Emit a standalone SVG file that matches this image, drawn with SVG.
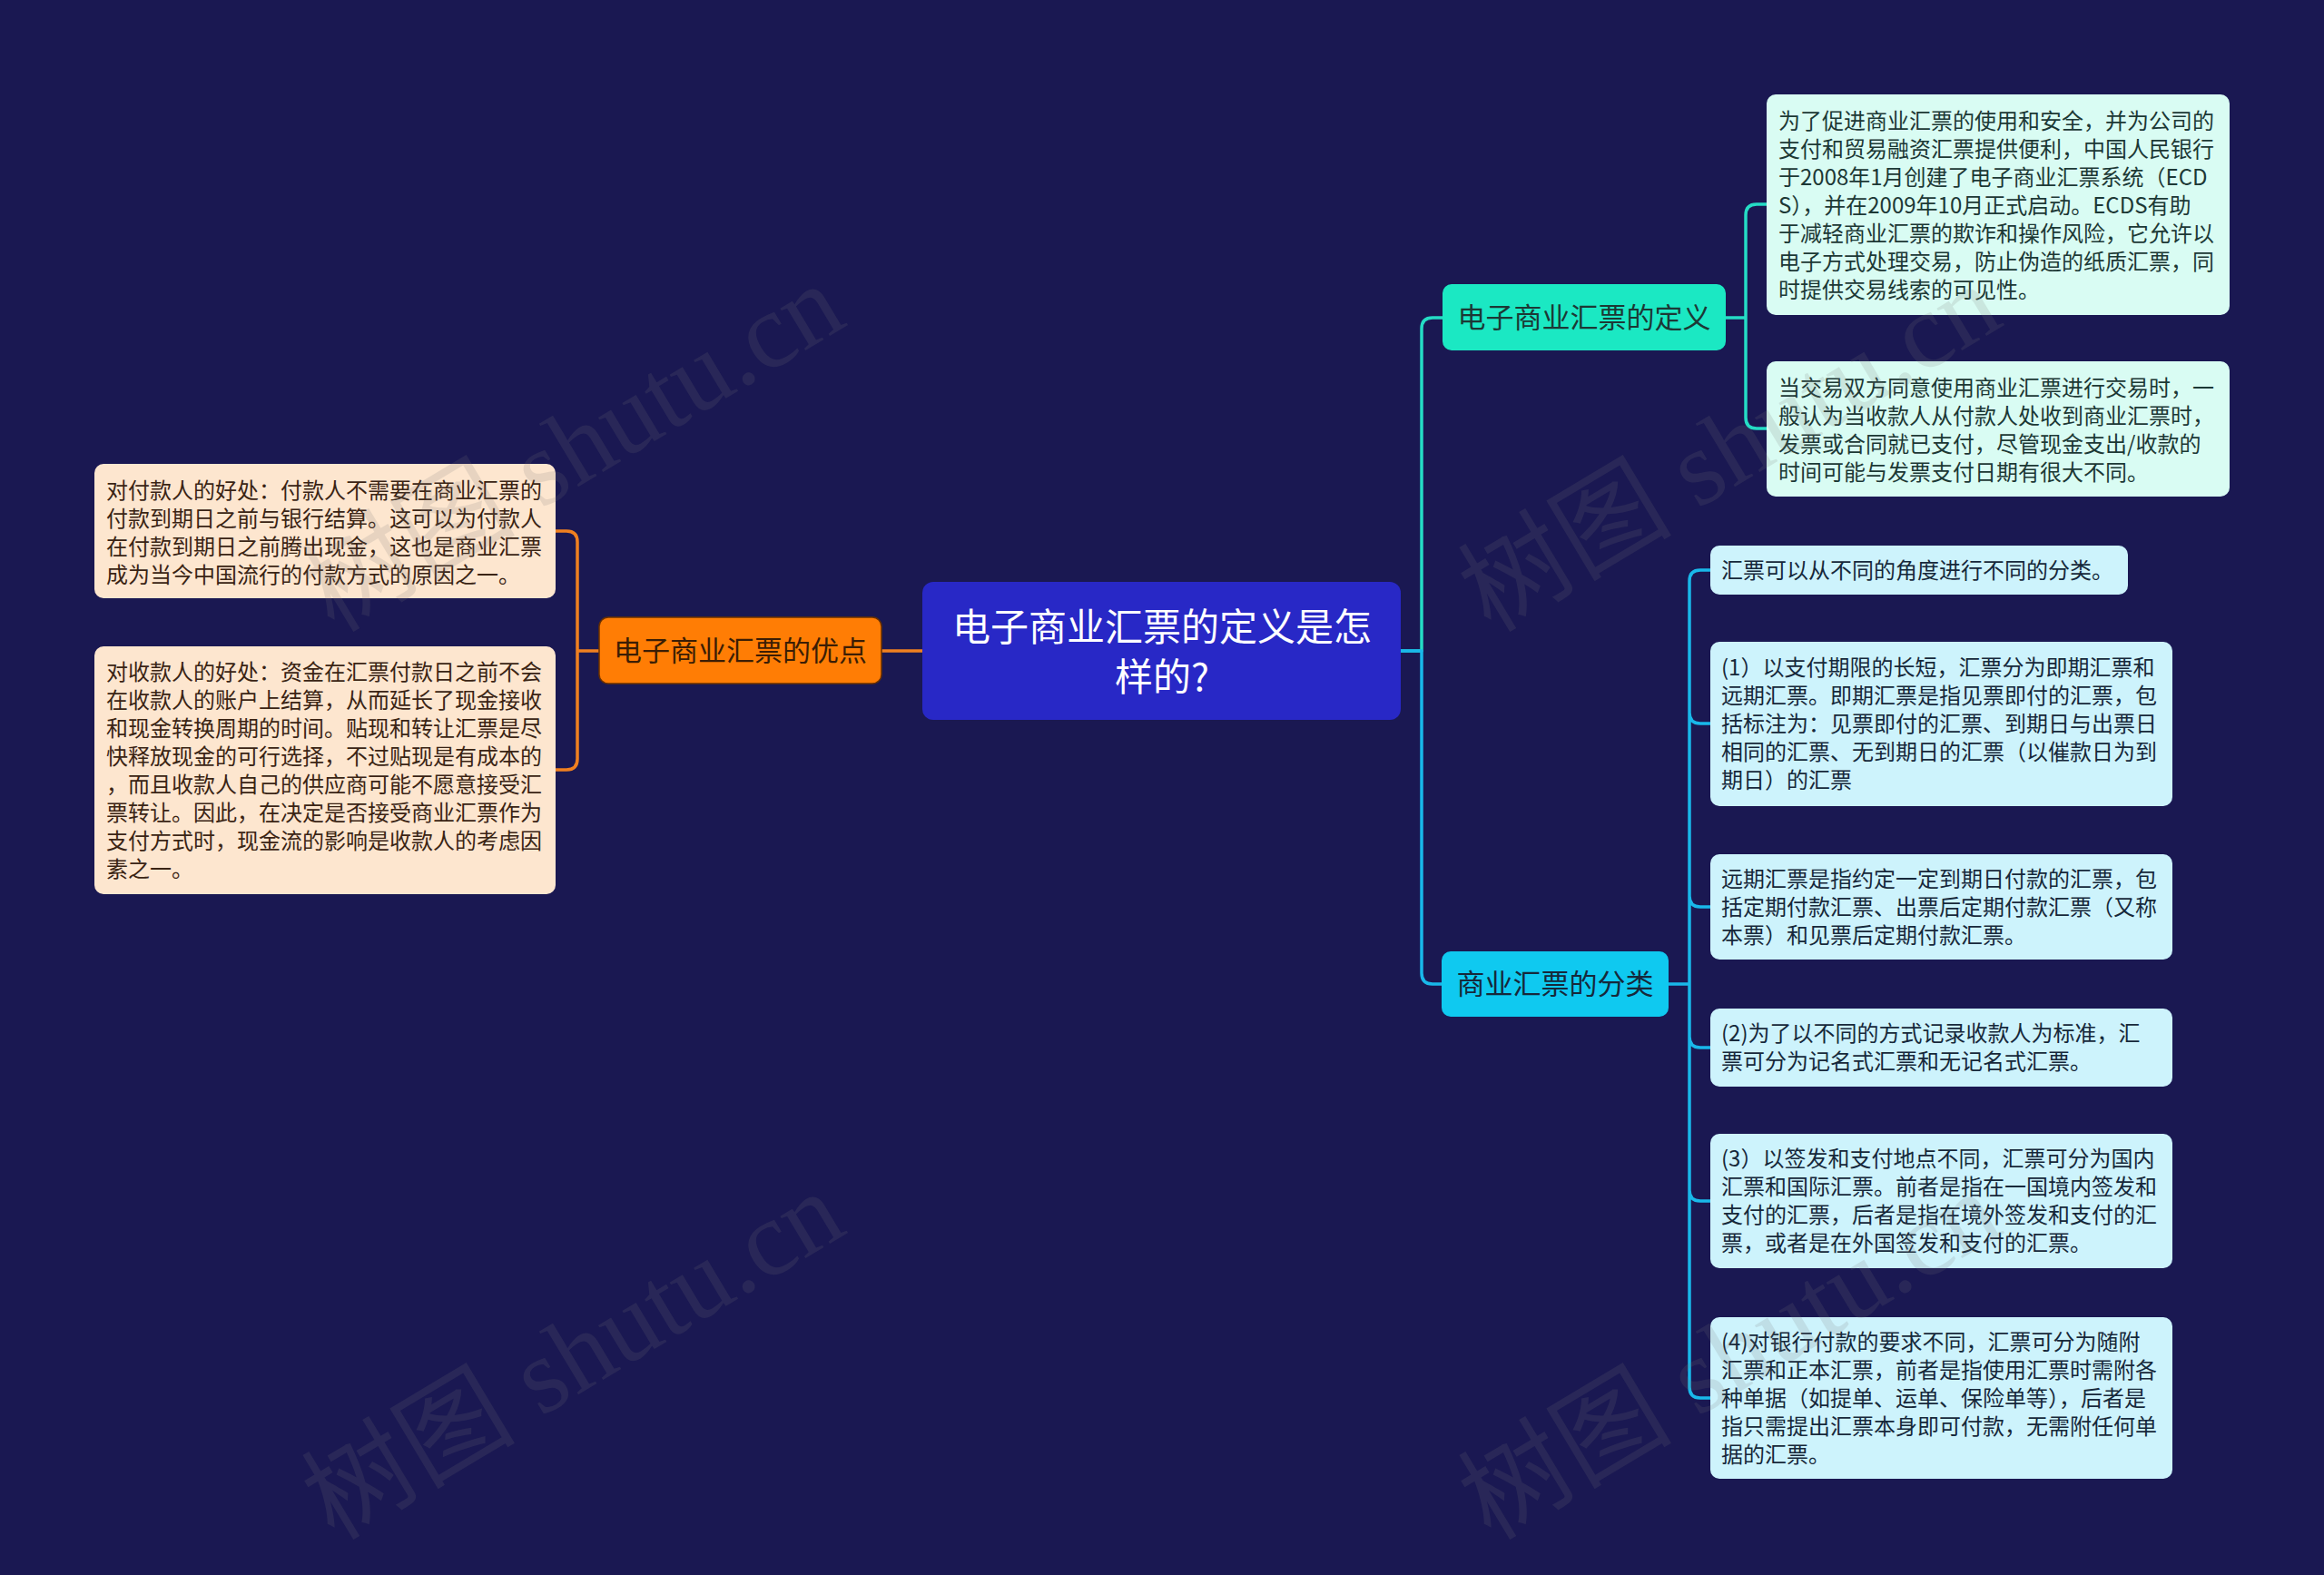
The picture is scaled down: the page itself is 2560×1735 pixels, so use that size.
<svg xmlns="http://www.w3.org/2000/svg" width="2560" height="1735" viewBox="0 0 2560 1735">
<style>
.cjk{font-family:"Noto Sans CJK SC","Noto Sans",sans-serif;}
.leaf{font-size:24px;}
.lt{fill:#3a2414;}
.tt{fill:#1c3835;}
.ct{fill:#16283a;}
.peach{fill:#fde6cf;}
.mint{fill:#d9fcf3;}
.sky{fill:#cdf3fc;}
.con{fill:none;stroke-width:3.5;stroke-linecap:round;stroke-linejoin:round;}
.wm{font-family:"Liberation Serif","Noto Sans CJK SC",serif;font-size:118px;fill:#787878;opacity:0.16;}
</style>
<rect x="0" y="0" width="2560" height="1735" fill="#1a1852"/>

<g id="connectors">
  <path class="con" stroke="#f08020" d="M1016,717 H971"/>
  <path class="con" stroke="#f08020" d="M660,717 H636 M612,585 H624 Q636,585 636,597 V836 Q636,848 624,848 H612"/>
  <path class="con" stroke="#25dcc5" d="M1543,717 H1566 V362 Q1566,350 1578,350 H1589"/>
  <path class="con" stroke="#19b8ea" d="M1543,717 H1566 V1072 Q1566,1084 1578,1084 H1588"/>
  <path class="con" stroke="#25dcc5" d="M1901,350 H1923 M1946,225 H1935 Q1923,225 1923,237 V460 Q1923,472 1935,472 H1946"/>
  <path class="con" stroke="#19b8ea" d="M1838,1084 H1861 M1884,628 H1873 Q1861,628 1861,640 V1528 Q1861,1540 1873,1540 H1884 M1861,785 Q1861,797 1873,797 H1884 M1861,987 Q1861,999 1873,999 H1884 M1861,1142 Q1861,1154 1873,1154 H1884 M1861,1311 Q1861,1323 1873,1323 H1884"/>
</g>

<g id="root">
  <rect x="1016" y="641" width="527" height="152" rx="12" fill="#2828c6"/>
  <text class="cjk" font-size="42" fill="#ffffff" text-anchor="middle"><tspan x="1280" y="706">电子商业汇票的定义是怎</tspan><tspan x="1280" y="761">样的?</tspan></text>
</g>

<g id="advantages">
  <rect x="660" y="680" width="311" height="73" rx="10" fill="#ff7d05" stroke="#6a3000" stroke-width="1.5"/>
  <text class="cjk" font-size="31" fill="#3b1d05" text-anchor="middle" x="815.5" y="728">电子商业汇票的优点</text>
</g>

<g id="adv-payer">
  <rect class="peach" x="104" y="511" width="508" height="148" rx="10"/>
  <text class="cjk leaf lt"><tspan x="117" y="549">对付款人的好处：付款人不需要在商业汇票的</tspan><tspan x="117" y="580">付款到期日之前与银行结算。这可以为付款人</tspan><tspan x="117" y="611">在付款到期日之前腾出现金，这也是商业汇票</tspan><tspan x="117" y="642">成为当今中国流行的付款方式的原因之一。</tspan></text>
</g>

<g id="adv-payee">
  <rect class="peach" x="104" y="712" width="508" height="273" rx="10"/>
  <text class="cjk leaf lt"><tspan x="117" y="749">对收款人的好处：资金在汇票付款日之前不会</tspan><tspan x="117" y="780">在收款人的账户上结算，从而延长了现金接收</tspan><tspan x="117" y="811">和现金转换周期的时间。贴现和转让汇票是尽</tspan><tspan x="117" y="842">快释放现金的可行选择，不过贴现是有成本的</tspan><tspan x="117" y="873">，而且收款人自己的供应商可能不愿意接受汇</tspan><tspan x="117" y="904">票转让。因此，在决定是否接受商业汇票作为</tspan><tspan x="117" y="935">支付方式时，现金流的影响是收款人的考虑因</tspan><tspan x="117" y="966">素之一。</tspan></text>
</g>

<g id="definition">
  <rect x="1589" y="313" width="312" height="73" rx="10" fill="#1be8c3"/>
  <text class="cjk" font-size="31" fill="#1c3835" text-anchor="middle" x="1745" y="361">电子商业汇票的定义</text>
</g>

<g id="def-1">
  <rect class="mint" x="1946" y="104" width="510" height="243" rx="10"/>
  <text class="cjk leaf tt"><tspan x="1959" y="142">为了促进商业汇票的使用和安全，并为公司的</tspan><tspan x="1959" y="173">支付和贸易融资汇票提供便利，中国人民银行</tspan><tspan x="1959" y="204">于2008年1月创建了电子商业汇票系统（ECD</tspan><tspan x="1959" y="235">S），并在2009年10月正式启动。ECDS有助</tspan><tspan x="1959" y="266">于减轻商业汇票的欺诈和操作风险，它允许以</tspan><tspan x="1959" y="297">电子方式处理交易，防止伪造的纸质汇票，同</tspan><tspan x="1959" y="328">时提供交易线索的可见性。</tspan></text>
</g>

<g id="def-2">
  <rect class="mint" x="1946" y="398" width="510" height="149" rx="10"/>
  <text class="cjk leaf tt"><tspan x="1959" y="436">当交易双方同意使用商业汇票进行交易时，一</tspan><tspan x="1959" y="467">般认为当收款人从付款人处收到商业汇票时，</tspan><tspan x="1959" y="498">发票或合同就已支付，尽管现金支出/收款的</tspan><tspan x="1959" y="529">时间可能与发票支付日期有很大不同。</tspan></text>
</g>

<g id="classification">
  <rect x="1588" y="1048" width="250" height="72" rx="10" fill="#0fc9f0"/>
  <text class="cjk" font-size="31" fill="#16283a" text-anchor="middle" x="1713" y="1095">商业汇票的分类</text>
</g>

<g id="cls-0">
  <rect class="sky" x="1884" y="601" width="460" height="54" rx="10"/>
  <text class="cjk leaf ct" x="1896" y="637">汇票可以从不同的角度进行不同的分类。</text>
</g>

<g id="cls-1">
  <rect class="sky" x="1884" y="707" width="509" height="181" rx="10"/>
  <text class="cjk leaf ct"><tspan x="1896" y="744">(1）以支付期限的长短，汇票分为即期汇票和</tspan><tspan x="1896" y="775">远期汇票。即期汇票是指见票即付的汇票，包</tspan><tspan x="1896" y="806">括标注为：见票即付的汇票、到期日与出票日</tspan><tspan x="1896" y="837">相同的汇票、无到期日的汇票（以催款日为到</tspan><tspan x="1896" y="868">期日）的汇票</tspan></text>
</g>

<g id="cls-2">
  <rect class="sky" x="1884" y="941" width="509" height="116" rx="10"/>
  <text class="cjk leaf ct"><tspan x="1896" y="977">远期汇票是指约定一定到期日付款的汇票，包</tspan><tspan x="1896" y="1008">括定期付款汇票、出票后定期付款汇票（又称</tspan><tspan x="1896" y="1039">本票）和见票后定期付款汇票。</tspan></text>
</g>

<g id="cls-3">
  <rect class="sky" x="1884" y="1111" width="509" height="86" rx="10"/>
  <text class="cjk leaf ct"><tspan x="1896" y="1147">(2)为了以不同的方式记录收款人为标准，汇</tspan><tspan x="1896" y="1178">票可分为记名式汇票和无记名式汇票。</tspan></text>
</g>

<g id="cls-4">
  <rect class="sky" x="1884" y="1249" width="509" height="148" rx="10"/>
  <text class="cjk leaf ct"><tspan x="1896" y="1285">(3）以签发和支付地点不同，汇票可分为国内</tspan><tspan x="1896" y="1316">汇票和国际汇票。前者是指在一国境内签发和</tspan><tspan x="1896" y="1347">支付的汇票，后者是指在境外签发和支付的汇</tspan><tspan x="1896" y="1378">票，或者是在外国签发和支付的汇票。</tspan></text>
</g>

<g id="cls-5">
  <rect class="sky" x="1884" y="1451" width="509" height="178" rx="10"/>
  <text class="cjk leaf ct"><tspan x="1896" y="1487">(4)对银行付款的要求不同，汇票可分为随附</tspan><tspan x="1896" y="1518">汇票和正本汇票，前者是指使用汇票时需附各</tspan><tspan x="1896" y="1549">种单据（如提单、运单、保险单等），后者是</tspan><tspan x="1896" y="1580">指只需提出汇票本身即可付款，无需附任何单</tspan><tspan x="1896" y="1611">据的汇票。</tspan></text>
</g>

<g id="watermarks">
  <text class="wm" transform="translate(368,698) rotate(-31)">树图 shutu.cn</text>
  <text class="wm" transform="translate(368,1698) rotate(-31)">树图 shutu.cn</text>
  <text class="wm" transform="translate(1642,698) rotate(-31)">树图 shutu.cn</text>
  <text class="wm" transform="translate(1642,1698) rotate(-31)">树图 shutu.cn</text>
</g>
</svg>
